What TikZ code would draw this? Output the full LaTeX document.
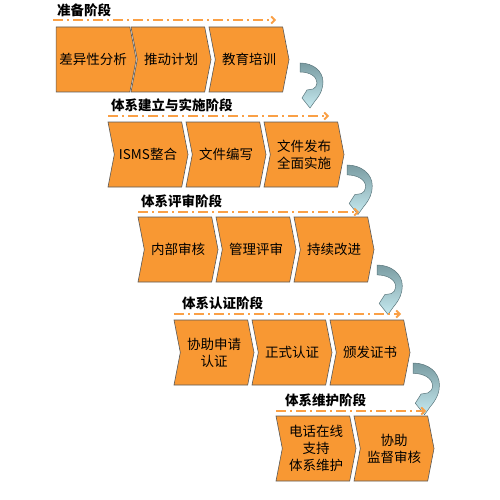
\documentclass[tikz,border=0pt]{standalone}
\usepackage{fontspec}
\setmainfont{Noto Sans CJK SC}
\usetikzlibrary{arrows.meta,shapes.symbols}
\definecolor{stageorange}{RGB}{248,152,51}
\definecolor{lineorange}{RGB}{250,160,70}
\definecolor{turndark}{RGB}{90,118,124}
\definecolor{turntop}{RGB}{122,156,162}
\definecolor{turnbot}{RGB}{198,234,240}
\tikzset{stage/.style={shape=signal, signal to=east, signal from=west, signal pointer angle=158,
    draw=black!65, fill=stageorange, line width=0.6pt, minimum width=80pt, minimum height=65pt,
    inner sep=0pt, align=center, font=\fontsize{13.5}{17}\selectfont},
  phase/.style={anchor=west, inner sep=0pt, font=\fontsize{13.5}{16}\selectfont\bfseries},
  track/.style={lineorange, line width=1.8pt, dash pattern=on 10pt off 4pt on 2pt off 4pt,
    -{Straight Barb[length=3.5pt,width=7pt]}},
  turn/.pic={\draw[turndark, line width=0.5pt, top color=turntop, bottom color=turnbot]
    (0,0) -- (0,9) .. controls (9,9) and (17,13) .. (17,20) .. controls (17,23) and (15,25) .. (13,26)
    -- (7,27) -- (2,35) -- (10,45) -- (15,38) .. controls (21,31) and (23,25) .. (23,19)
    .. controls (23,8) and (13,0) .. (0,0) -- cycle;}}

\begin{document}
\begin{tikzpicture}[x=1pt, y=-1pt]
  \useasboundingbox (0,0) rectangle (500,500);
  % 准备阶段
  \node[phase] (t1) at (57,10) {准备阶段};
  \draw[track] (53,20) -- (276,20);
  \node[stage, signal from=nowhere] (s11) at (93,59.5) {差异性分析};
  \node[stage] (s12) at (171,59.5) {推动计划};
  \node[stage] (s13) at (249,59.5) {教育培训};
  \pic at (300,63) {turn};
  % 体系建立与实施阶段
  \node[phase] (t2) at (111,105) {体系建立与实施阶段};
  \draw[track] (108,116) -- (329,116);
  \node[stage] (s21) at (148,154.5) {ISMS整合};
  \node[stage] (s22) at (226,154.5) {文件编写};
  \node[stage] (s23) at (304,154.5) {文件发布\\全面实施};
  \pic[scale=1.1] at (347,165) {turn};
  % 体系评审阶段
  \node[phase] (t3) at (141,201) {体系评审阶段};
  \draw[track] (138,212) -- (359,212);
  \node[stage] (s31) at (178,249.5) {内部审核};
  \node[stage] (s32) at (256,249.5) {管理评审};
  \node[stage] (s33) at (334,249.5) {持续改进};
  \pic[scale=1.1] at (377,265) {turn};
  % 体系认证阶段
  \node[phase] (t4) at (182,303) {体系认证阶段};
  \draw[track] (174,314) -- (401,314);
  \node[stage] (s41) at (214,352.5) {协助申请\\认证};
  \node[stage] (s42) at (292,352.5) {正式认证};
  \node[stage] (s43) at (370,352.5) {颁发证书};
  \pic[scale=1.15] at (413,363) {turn};
  % 体系维护阶段
  \node[phase] (t5) at (285,400) {体系维护阶段};
  \draw[track] (276,411) -- (426,411);
  \node[stage] (s51) at (316,448.5) {电话在线\\支持\\体系维护};
  \node[stage] (s52) at (394,448.5) {协助\\监督审核};
\end{tikzpicture}
\end{document}
